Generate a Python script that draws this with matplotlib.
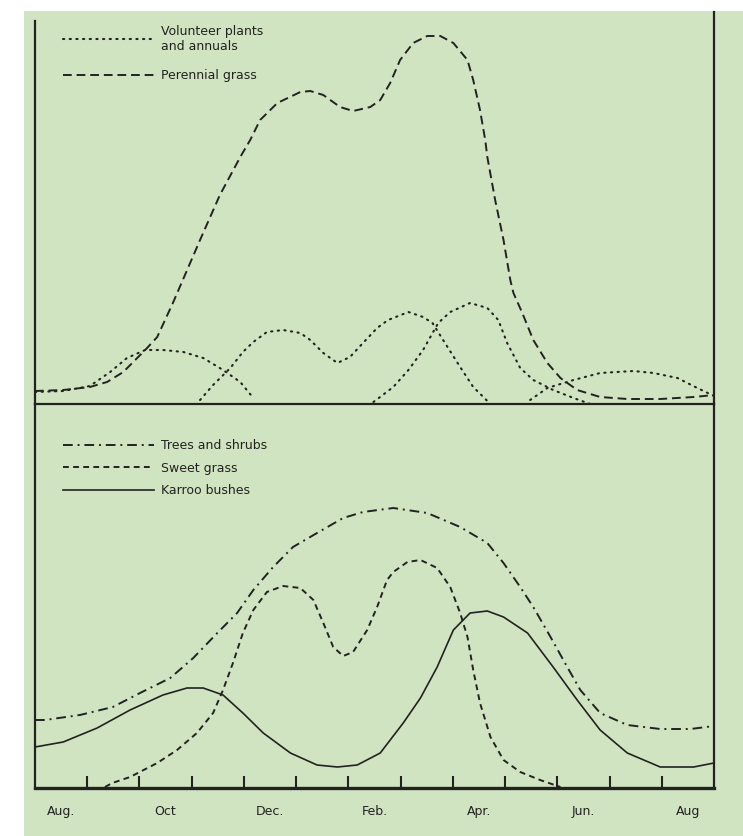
import numpy as np
import matplotlib
matplotlib.use("Agg")
import matplotlib.pyplot as plt
from matplotlib.patches import Rectangle

plt.rcParams['font.family'] = ['DejaVu Sans']

# x in months since start of August, y in relative units above each baseline
perennial_x = [0, 0.54, 1.05, 1.38, 1.69, 1.88, 2.11, 2.34, 2.64, 3.16, 3.54, 3.93, 4.12, 4.31,
               4.64, 5.08, 5.27, 5.52, 5.84, 6.09, 6.42, 6.61, 6.80, 6.99, 7.24, 7.51, 7.76,
               8.01, 8.28, 8.39, 8.52, 8.62, 8.66, 8.81, 8.97, 9.10, 9.16, 9.33, 9.54, 9.81,
               10.06, 10.38, 10.82, 11.34, 11.97, 12.61, 13.0]
perennial_y = [13, 14, 17, 22, 32, 42, 54, 67, 101, 164, 209, 247, 264, 284,
               301, 312, 313, 309, 297, 293, 297, 304, 321, 344, 361, 368, 368,
               361, 344, 324, 294, 264, 247, 204, 164, 124, 111, 91, 64, 41,
               26, 14, 7, 5, 5, 7, 9]

# volunteer plants and annuals: four overlapping flushes
vol1_x = [0, 0.54, 1.05, 1.44, 1.76, 2.11, 2.45, 2.84, 3.22, 3.60, 3.93, 4.18]
vol1_y = [12, 13, 18, 32, 46, 54, 54, 52, 46, 34, 22, 6]
vol2_x = [3.16, 3.41, 3.74, 3.98, 4.18, 4.44, 4.75, 5.08, 5.27, 5.52, 5.79, 6.03, 6.28,
          6.55, 6.76, 7.15, 7.43, 7.61, 7.91, 8.14, 8.39, 8.68]
vol2_y = [4, 19, 36, 52, 62, 72, 74, 71, 64, 51, 41, 47, 61,
          76, 84, 92, 87, 81, 56, 37, 17, 2]
vol3_x = [6.48, 6.86, 7.15, 7.43, 7.72, 7.95, 8.33, 8.66, 8.87, 9.04, 9.29, 9.54, 9.92,
          10.31, 10.63]
vol3_y = [2, 17, 34, 54, 81, 92, 101, 96, 84, 61, 36, 24, 14, 6, 0]
vol4_x = [9.48, 9.81, 10.31, 10.82, 11.46, 11.84, 12.30, 12.68, 13.0]
vol4_y = [4, 16, 24, 31, 33, 31, 26, 16, 8]

trees_x = [0, 0.19, 0.86, 1.49, 2.01, 2.59, 3.03, 3.49, 3.87, 4.18, 4.56, 4.94, 5.40, 5.90,
           6.28, 6.86, 7.51, 8.14, 8.66, 8.97, 9.29, 9.54, 9.87, 10.19, 10.44, 10.82,
           11.34, 11.97, 12.55, 13.0]
trees_y = [68, 68, 73, 81, 95, 110, 130, 155, 175, 198, 221, 241, 255, 270,
           276, 280, 275, 261, 245, 225, 201, 181, 151, 121, 98, 75,
           63, 59, 59, 62]

sweet_x = [1.34, 1.48, 1.82, 2.34, 2.72, 3.10, 3.41, 3.60, 3.79, 3.98, 4.18, 4.44, 4.75,
           5.08, 5.33, 5.52, 5.71, 5.90, 6.09, 6.36, 6.55, 6.74, 6.86, 7.13, 7.38, 7.70,
           7.95, 8.14, 8.28, 8.39, 8.52, 8.72, 8.97, 9.29, 9.67, 10.06]
sweet_y = [1, 5, 11, 25, 38, 55, 75, 98, 125, 155, 178, 196, 202,
           200, 188, 165, 141, 132, 136, 158, 181, 208, 216, 226, 228, 220,
           201, 175, 151, 118, 85, 51, 28, 16, 8, 1]

karroo_x = [0, 0.54, 1.19, 1.82, 2.45, 2.91, 3.22, 3.60, 3.98, 4.37, 4.89, 5.40, 5.79,
            6.17, 6.61, 7.05, 7.38, 7.70, 8.01, 8.33, 8.66, 8.97, 9.43, 9.92, 10.38,
            10.82, 11.34, 11.97, 12.61, 13.0]
karroo_y = [41, 46, 60, 78, 93, 100, 100, 93, 75, 55, 35, 23, 21,
            23, 35, 65, 90, 121, 158, 175, 177, 171, 155, 121, 88,
            58, 35, 21, 21, 25]

month_labels = ["Aug.", "Oct", "Dec.", "Feb.", "Apr.", "Jun.", "Aug"]
label_months = [0, 2, 4, 6, 8, 10, 12]

ink = "#222222"
green = "#d1e4c1"

fig = plt.figure(figsize=(7.43, 8.36), dpi=100)
fig.patch.set_facecolor("white")
fig.patches.append(Rectangle((24 / 743, 0), 1, 1 - 11 / 836, transform=fig.transFigure,
                             facecolor=green, edgecolor="none", zorder=-10))

ax1 = fig.add_axes([35 / 743, 1 - 404 / 836, 679 / 743, 392 / 836])
ax2 = fig.add_axes([35 / 743, 1 - 788 / 836, 679 / 743, 384 / 836])

for ax in (ax1, ax2):
    ax.set_facecolor("none")
    ax.set_xlim(0, 13)
    ax.spines["top"].set_visible(False)
    for s in ("left", "right", "bottom"):
        ax.spines[s].set_color(ink)
    ax.spines["left"].set_linewidth(1.6)
    ax.spines["right"].set_linewidth(1.6)
    ax.set_yticks([])

ax1.set_ylim(0, 392)
ax2.set_ylim(0, 384)
ax1.spines["left"].set_bounds(0, 383)
ax1.spines["bottom"].set_linewidth(1.6)
ax2.spines["bottom"].set_linewidth(2.4)
ax1.set_xticks([])

dot = (0, (0.6, 2.6))
# top panel
ax1.plot(vol1_x, vol1_y, color=ink, lw=1.5, ls=dot, dash_capstyle="round",
         label="Volunteer plants\nand annuals")
ax1.plot(vol2_x, vol2_y, color=ink, lw=1.5, ls=dot, dash_capstyle="round")
ax1.plot(vol3_x, vol3_y, color=ink, lw=1.5, ls=dot, dash_capstyle="round")
ax1.plot(vol4_x, vol4_y, color=ink, lw=1.5, ls=dot, dash_capstyle="round")
ax1.plot(perennial_x, perennial_y, color=ink, lw=1.4, ls=(0, (4.5, 2.5)), label="Perennial grass")
leg1 = ax1.legend(loc="upper left", bbox_to_anchor=(0.024, 0.996), frameon=False,
                  handlelength=7.3, handletextpad=0.6, labelspacing=1.3, fontsize=9)
for t in leg1.get_texts():
    t.set_color(ink)

# bottom panel
ax2.plot(trees_x, trees_y, color=ink, lw=1.4, ls=(0, (5, 2.5, 1, 2.5)), label="Trees and shrubs")
ax2.plot(sweet_x, sweet_y, color=ink, lw=1.4, ls=(0, (3, 2.2)), label="Sweet grass")
ax2.plot(karroo_x, karroo_y, color=ink, lw=1.2, label="Karroo bushes")
leg2 = ax2.legend(loc="upper left", bbox_to_anchor=(0.024, 0.937), frameon=False,
                  handlelength=7.3, handletextpad=0.6, labelspacing=0.75, fontsize=9)
for t in leg2.get_texts():
    t.set_color(ink)

ax2.set_xticks(np.arange(1, 13), minor=True)
ax2.tick_params(axis="x", which="minor", direction="in", length=9, width=1.5, color=ink)
ax2.set_xticks([m + 0.5 for m in label_months])
ax2.set_xticklabels(month_labels, fontsize=9, color=ink)
ax2.tick_params(axis="x", which="major", length=0, pad=12)

fig.savefig("out.png", dpi=100, facecolor="white")
